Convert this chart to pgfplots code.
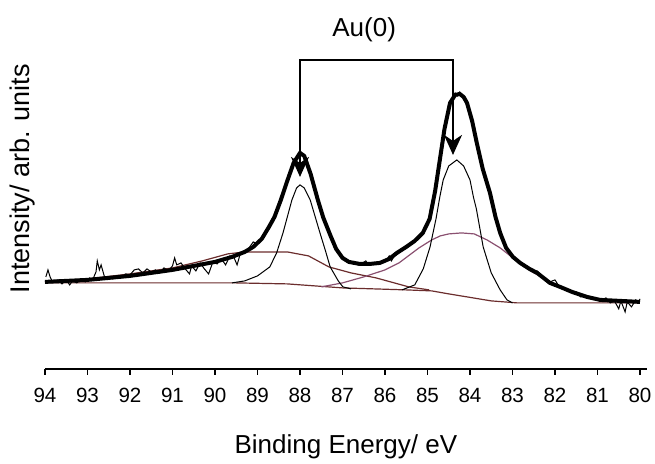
\documentclass[border=0pt]{standalone}
\usepackage{fontspec}
\setmainfont{Liberation Sans}
\usepackage{pgfplots}
\pgfplotsset{compat=1.18}
\usetikzlibrary{arrows.meta}
\definecolor{compA}{HTML}{6B2D2D}
\definecolor{compB}{HTML}{8A5070}

\begin{document}
\begin{tikzpicture}
\begin{axis}[
  width=301pt, height=184.5pt, scale only axis,
  x dir=reverse, xmin=79.84, xmax=94, ymin=0, ymax=369,
  axis x line=bottom, axis y line=none,
  x axis line style={-, line width=0.8pt},
  xtick={80,81,...,94}, tick align=outside, major tick length=3pt,
  tick style={black, line width=0.8pt},
  xticklabel style={font=\fontsize{10.3}{12}\selectfont, yshift=-3pt},
  /pgf/number format/assume math mode=true,
  clip=false,
]
% background and broad components
\addplot[compA, line width=0.6pt] coordinates {
(94,86)(89.5,86)(88.3,85)(87.0,81)(85.5,79)(84.9,78)(84.5,75)(84.07,72)(83.5,68)(82.89,66)(80,66)};
\addplot[compA, line width=0.6pt] coordinates {
(94,87)(93,90)(92,95)(91,101)(90.3,108)(89.7,115)(89.3,117)(88.3,117)(87.8,113)(87.32,102)(86.8,96)(86.21,91)(85.44,82)(84.96,79)};
\addplot[compB, line width=0.6pt] coordinates {
(87.5,82)(87.0,86)(86.5,92)(86.0,99)(85.67,106)(85.2,121)(84.9,129)(84.7,133)(84.5,135)(84.2,136)(83.9,135)(83.6,129)(83.29,121)(82.9,108)(82.54,97)(82.1,87)(81.72,79)(81.3,72)(80.8,68)(80.3,66)};
% gaussian components
\addplot[black, line width=0.5pt] coordinates {
(89.6,86)(89.3,88)(89.0,93)(88.71,102)(88.55,116)(88.4,136)(88.19,169)(88.08,181)(88.0,184)(87.9,181)(87.76,169)(87.53,136)(87.4,118)(87.29,102)(87.1,88)(86.99,82)(86.8,80)};
\addplot[black, line width=0.5pt] coordinates {
(85.6,79)(85.3,84)(85.1,100)(84.94,122)(84.8,150)(84.71,172)(84.63,189)(84.5,203)(84.31,209)(84.15,203)(84.0,189)(83.92,172)(83.85,160)(83.69,122)(83.5,96)(83.29,79)(83.13,69)(83.0,66)};
% measured spectrum
\addplot[black, line width=0.5pt] coordinates {
(93.98,92)(93.93,99)(93.88,92)(93.82,87)(93.7,89)(93.6,85)(93.5,89)(93.42,84)(93.35,88)(93.25,86)(93.15,90)(93.05,87)(92.95,91)(92.88,89)(92.8,97)(92.77,108)(92.72,99)(92.68,104)(92.6,92)(92.5,92)(92.4,90)(92.3,93)(92.2,92)(92.1,95)(92.0,94)(91.9,99)(91.8,100)(91.7,96)(91.6,100)(91.5,97)(91.4,99)(91.3,96)(91.2,101)(91.1,98)(91.0,103)(90.95,111)(90.9,104)(90.8,106)(90.7,100)(90.6,95)(90.55,103)(90.45,98)(90.35,106)(90.25,100)(90.15,95)(90.05,107)(89.95,105)(89.85,110)(89.75,104)(89.65,113)(89.55,111)(89.48,104)(89.4,116)(89.3,118)(89.2,121)(89.1,127)(89.0,125)(88.9,132)(88.8,136)(88.73,142)(88.6,153)(88.45,170)(88.3,190)(88.15,207)(88.05,214)(88.0,219)(87.95,214)(87.88,212)(87.75,196)(87.58,168)(87.45,152)(87.3,133)(87.15,121)(87.0,110)(86.85,106)(86.6,104)(86.45,108)(86.4,104)(86.2,106)(86.0,107)(85.9,113)(85.85,108)(85.72,117)(85.5,121)(85.3,129)(85.1,137)(84.95,150)(84.82,178)(84.71,210)(84.6,239)(84.47,267)(84.4,271)(84.35,276)(84.3,273)(84.24,277)(84.15,272)(84.07,265)(83.95,249)(83.84,225)(83.7,201)(83.53,175)(83.4,153)(83.29,135)(83.15,122)(82.99,111)(82.82,107)(82.7,103)(82.6,101)(82.5,97)(82.42,98)(82.3,92)(82.12,87)(82.0,89)(81.88,81)(81.7,80)(81.6,76)(81.5,77)(81.4,72)(81.25,73)(81.1,70)(80.94,68)(80.8,71)(80.7,66)(80.6,68)(80.5,60)(80.45,68)(80.35,57)(80.3,67)(80.2,62)(80.1,69)(80.04,66)(80.0,70)};
% total fit
\addplot[black, line width=2pt, line join=round] coordinates {
(94.0,87)(93.5,88)(93.0,89)(92.5,91)(92.0,93)(91.5,96)(91.0,99)(90.5,103)(90.0,107)(89.6,112)(89.3,117)(89.1,122)(88.9,130)(88.73,142)(88.6,152)(88.45,169)(88.3,188)(88.15,206)(88.0,216)(87.9,213)(87.75,195)(87.58,169)(87.45,151)(87.29,134)(87.15,120)(87.0,111)(86.85,107)(86.6,105)(86.35,105)(86.12,106)(85.9,110)(85.72,116)(85.5,122)(85.3,128)(85.11,136)(84.95,150)(84.82,178)(84.71,209)(84.6,240)(84.47,266)(84.35,274)(84.24,275)(84.15,272)(84.07,266)(83.95,248)(83.84,226)(83.7,200)(83.53,176)(83.4,152)(83.29,136)(83.15,121)(82.99,112)(82.82,106)(82.6,100)(82.42,96)(82.12,86)(81.88,82)(81.6,77)(81.25,72)(80.94,69)(80.47,68)(80.0,67)};
% annotation
\draw[line width=1pt, -{Stealth[length=10pt,width=9pt,inset=3pt]}]
  (axis cs:88.0,216) -- (axis cs:88.0,309) -- (axis cs:84.4,309) -- (axis cs:84.4,214);
\draw[line width=1pt, -{Stealth[length=10pt,width=9pt,inset=3pt]}]
  (axis cs:88.0,230) -- (axis cs:88.0,192);
\node[font=\fontsize{13}{15}\selectfont] at (axis cs:86.49,339) {Au(0)};
\node[rotate=90, font=\fontsize{13.5}{15}\selectfont] at (axis cs:94.54,190) {Intensity/ arb. units};
\node[font=\fontsize{13}{15}\selectfont] at (axis cs:86.92,-78) {Binding Energy/ eV};
\coordinate (bl) at (axis cs:95.059,-95);
\coordinate (tr) at (axis cs:79.647,369);
\end{axis}
\pgfresetboundingbox
\path (bl) rectangle (tr);
\end{tikzpicture}
\end{document}
